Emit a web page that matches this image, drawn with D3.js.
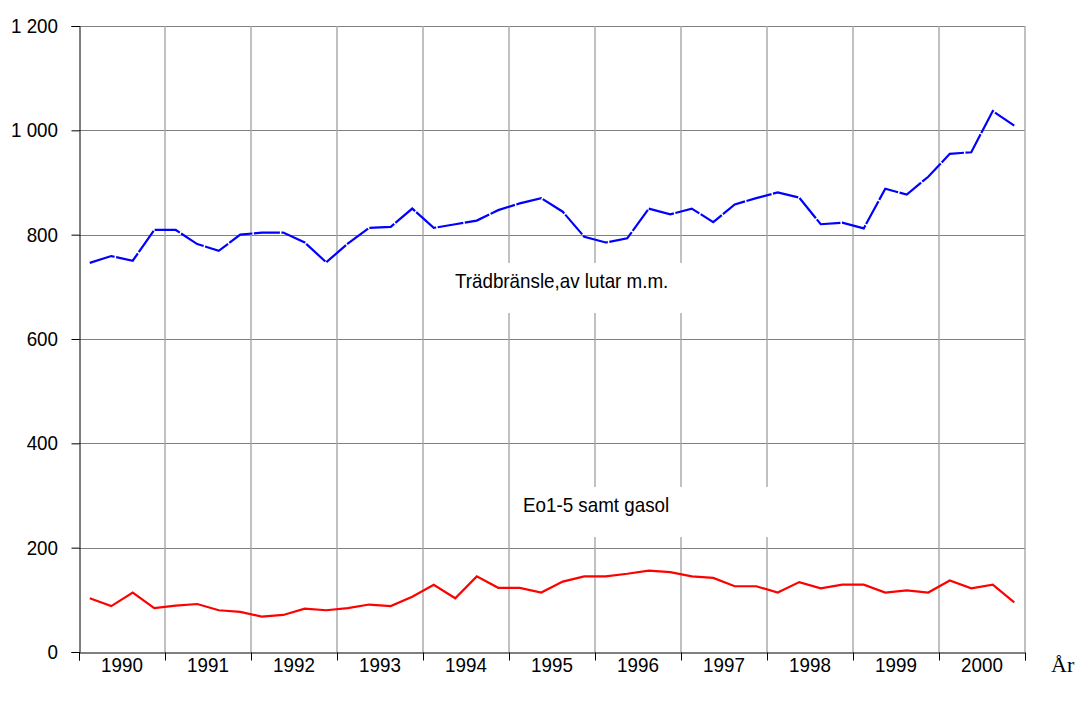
<!DOCTYPE html>
<html>
<head>
<meta charset="utf-8">
<script src="https://cdn.jsdelivr.net/npm/d3@7"></script>
<style>
html, body { margin: 0; padding: 0; background: #fff; }
svg { display: block; }
</style>
</head>
<body>
<svg id="chart" width="1084" height="702"></svg>
<script>
// ---- data ----
const years = [1990, 1991, 1992, 1993, 1994, 1995, 1996, 1997, 1998, 1999, 2000];
const quarters = [1, 2, 3, 4];
const yTicks = [0, 200, 400, 600, 800, 1000, 1200];
const woodFuel = [
  746, 759, 750, 809, 809, 782, 769, 800, 804, 804, 785, 747,
  783, 813, 815, 850, 813, 820, 827, 847, 860, 870, 844, 796,
  785, 793, 850, 839, 850, 824, 858, 870, 881, 871, 820, 823,
  812, 888, 877, 911, 955, 958, 1037, 1009
];
const oilGas = [
  103, 88, 114, 84, 89, 92, 80, 77, 68, 71, 83, 80,
  84, 91, 88, 106, 129, 103, 145, 123, 123, 114, 135, 145,
  145, 150, 156, 153, 145, 142, 126, 126, 114, 134, 122, 129,
  129, 114, 118, 114, 137, 122, 129, 95
];
const woodLabel = "Trädbränsle,av lutar m.m.";
const oilLabel = "Eo1-5 samt gasol";
const xAxisTitle = "År";

(function () {
const svg = d3.select("#chart");
const pLeft = 79, pRight = 1025, pTop = 26, pBottom = 652;
const FONT = "'Liberation Sans', Arial, sans-serif";
const FS = 20, SX = 0.94;

const x = d3.scaleLinear().domain([years[0], years[years.length - 1] + 1]).range([pLeft, pRight]);
const y = d3.scaleLinear().domain([0, 1200]).range([pBottom, pTop]);
const tOf = i => years[0] + (i + 0.5) / quarters.length;

const fmt = d3.formatLocale({ decimal: ",", thousands: " ", grouping: [3], currency: ["", ""] }).format(",d");

// narrow text helper
function ntext(g, tx, ty, str, anchor) {
  return g.append("text")
    .attr("transform", `translate(${tx},${ty}) scale(${SX},1)`)
    .attr("font-family", FONT).attr("font-size", FS).attr("fill", "#000")
    .attr("text-anchor", anchor || "start").text(str);
}

// horizontal gridlines
svg.append("g").selectAll("line").data(yTicks.filter(d => d > 0)).join("line")
  .attr("x1", pLeft).attr("x2", pRight)
  .attr("y1", d => Math.round(y(d)) + 0.5).attr("y2", d => Math.round(y(d)) + 0.5)
  .attr("stroke", "#808080").attr("stroke-width", 1);

// vertical gridlines at year boundaries
const bounds = years.slice(1).concat([years[years.length - 1] + 1]);
svg.append("g").selectAll("line").data(bounds).join("line")
  .attr("x1", d => x(d)).attr("x2", d => x(d))
  .attr("y1", pTop).attr("y2", pBottom)
  .attr("stroke", "#a6a6a6").attr("stroke-width", 1.4);

// label boxes (white, interrupt gridlines)
svg.append("rect").attr("x", 440).attr("y", 263).attr("width", 260).attr("height", 50).attr("fill", "#fff");
svg.append("rect").attr("x", 515).attr("y", 487).attr("width", 262).attr("height", 50).attr("fill", "#fff");

// y axis
const yAxis = d3.axisLeft(y).tickValues(yTicks).tickSize(8).tickFormat("");
const gy = svg.append("g").attr("transform", `translate(${pLeft + 0.5},0)`).call(yAxis);
gy.select(".domain").attr("stroke", "#000");
gy.selectAll(".tick line").attr("stroke", "#000");
const gyl = svg.append("g");
yTicks.forEach(v => ntext(gyl, 58, y(v) + 7, fmt(v), "end"));

// x axis
const xAxis = d3.axisBottom(x).tickValues(bounds.concat([years[0]])).tickSize(8).tickFormat("");
const gx = svg.append("g").attr("transform", `translate(0,${pBottom + 0.5})`).call(xAxis);
gx.select(".domain").attr("stroke", "#000");
gx.selectAll(".tick line").attr("stroke", "#000");

// year labels
const gxl = svg.append("g");
years.forEach(yr => ntext(gxl, x(yr + 0.5), 672, String(yr), "middle"));

svg.append("text").attr("x", 1051).attr("y", 672)
  .attr("font-family", "'Liberation Serif', 'Times New Roman', serif").attr("font-size", 22)
  .attr("fill", "#000").text(xAxisTitle);

// series
const line = d3.line().x((d, i) => x(tOf(i))).y(d => y(d));
svg.append("path").datum(woodFuel).attr("d", line)
  .attr("fill", "none").attr("stroke", "#0000ff").attr("stroke-width", 2.2)
  .attr("stroke-dasharray", "26,1.5");
svg.append("path").datum(oilGas).attr("d", line)
  .attr("fill", "none").attr("stroke", "#ff0000").attr("stroke-width", 2.2);

// series labels
ntext(svg, 455, 288, woodLabel);
ntext(svg, 523, 512, oilLabel);
})();
</script>
</body>
</html>
